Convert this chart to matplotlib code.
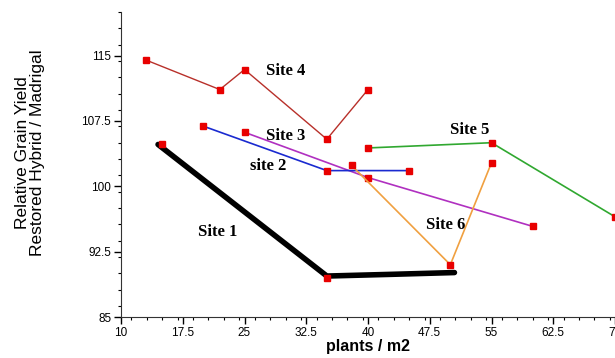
import matplotlib
matplotlib.use("Agg")
import matplotlib.pyplot as plt
from matplotlib.ticker import MultipleLocator, FixedLocator

# Data
site1_x = [14.5, 35, 43, 50.5]
site1_y = [104.8, 89.7, 89.9, 90.1]
site1_mx = [15, 35]
site1_my = [104.8, 89.5]

site2_x = [20, 35, 45]
site2_y = [106.9, 101.8, 101.8]

site3_x = [25, 40, 60]
site3_y = [106.2, 101.0, 95.4]

site4_x = [13, 22, 25, 35, 40]
site4_y = [114.5, 111.1, 113.4, 105.4, 111.1]

site5_x = [40, 55, 70]
site5_y = [104.4, 105.0, 96.5]

site6_x = [38, 50, 55]
site6_y = [102.4, 91.0, 102.7]

x_ticks = [10, 17.5, 25, 32.5, 40, 47.5, 55, 62.5, 70]
x_ticklabels = ["10", "17.5", "25", "32.5", "40", "47.5", "55", "62.5", "7"]
y_ticks = [85, 92.5, 100, 107.5, 115]
y_ticklabels = ["85", "92.5", "100", "107.5", "115"]

labels = ["Site 4", "Site 3", "site 2", "Site 1", "Site 5", "Site 6"]
label_x = [30.0, 30.0, 27.9, 21.7, 52.4, 49.4]
label_y = [113.2, 105.8, 102.3, 94.7, 106.5, 95.6]

plt.rcParams['font.family'] = ['Liberation Sans', 'DejaVu Sans']

fig = plt.figure(figsize=(6.15, 3.58), dpi=100)
ax = fig.add_axes([121/615, 41/358, 494/615, 305/358])

mk = dict(marker='s', markersize=5, markerfacecolor='#e80000', markeredgecolor='#e80000')

ax.plot(site4_x, site4_y, color='#b8302a', lw=1.0, **mk, zorder=3)
ax.plot(site3_x, site3_y, color='#b030c0', lw=1.2, **mk, zorder=3)
ax.plot(site2_x, site2_y, color='#1a2ad0', lw=1.2, **mk, zorder=3)
ax.plot(site5_x, site5_y, color='#30a830', lw=1.2, **mk, zorder=3)
ax.plot(site6_x, site6_y, color='#f0a040', lw=1.2, **mk, zorder=3)
ax.plot(site1_x, site1_y, color='black', lw=4.0, solid_capstyle='round', zorder=2)
ax.plot(site1_mx, site1_my, linestyle='none', **mk, zorder=4)

for t, lx, ly in zip(labels, label_x, label_y):
    ax.text(lx, ly, t, fontfamily='Liberation Serif', fontweight='bold',
            fontsize=12, ha='center', va='center')

ax.set_xlim(10, 70)
ax.set_ylim(85, 120)
ax.spines['top'].set_visible(False)
ax.spines['right'].set_visible(False)
ax.spines['left'].set_color('#333333')
ax.spines['bottom'].set_color('#333333')

ax.xaxis.set_major_locator(FixedLocator(x_ticks))
ax.set_xticklabels(x_ticklabels)
ax.yaxis.set_major_locator(FixedLocator(y_ticks))
ax.set_yticklabels(y_ticklabels)
for lab in ax.get_xticklabels()[-1:]:
    lab.set_horizontalalignment('right')
ax.xaxis.set_minor_locator(MultipleLocator(1.875))
ax.yaxis.set_minor_locator(MultipleLocator(1.875))
ax.tick_params(which='major', direction='out', length=5, width=1, labelsize=8.5, pad=2)
ax.tick_params(which='minor', direction='out', length=2.5, width=0.8)

ax.set_xlabel("plants / m2", fontsize=11.5, fontweight='bold', labelpad=0)
ax.set_ylabel("Relative Grain Yield\nRestored Hybrid / Madrigal", fontsize=12.5,
              linespacing=1.0)
ax.yaxis.set_label_coords(-0.154, 0.54)

fig.savefig("out.png", dpi=100)
